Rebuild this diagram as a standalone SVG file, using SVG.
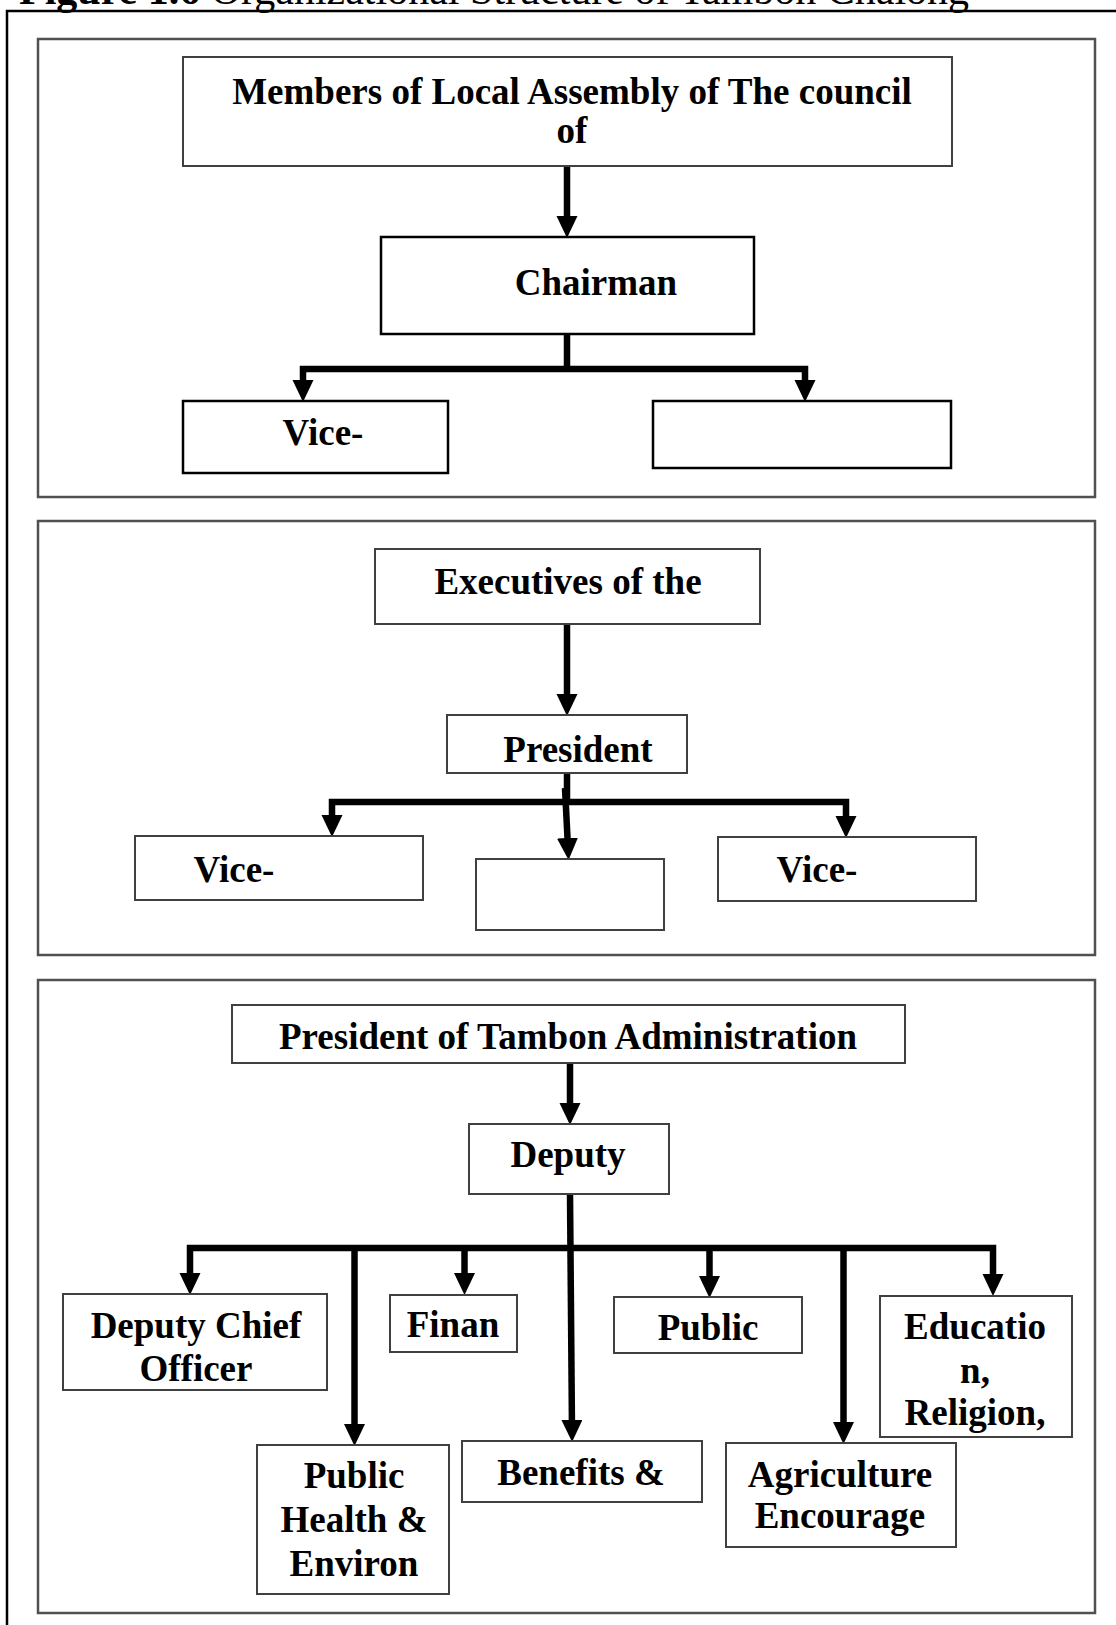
<svg xmlns="http://www.w3.org/2000/svg" width="1116" height="1625" viewBox="0 0 1116 1625">
<style>
.t{font-family:"Liberation Serif","Times New Roman",serif;font-weight:bold;font-size:37px;text-anchor:middle;fill:#000}
.panel{fill:none;stroke:#505050;stroke-width:2.5}
.box{fill:#fff;stroke:#404040;stroke-width:2}
.boxk{fill:#fff;stroke:#000;stroke-width:2.5}
.c{fill:none;stroke:#000;stroke-width:6.5;stroke-linejoin:miter}
.ca{fill:none;stroke:#000;stroke-width:6.5;stroke-linejoin:miter;marker-end:url(#ah)}
.cb{fill:none;stroke:#000;stroke-width:6.5;stroke-linejoin:miter;marker-start:url(#ah);marker-end:url(#ah)}
</style>
<defs>
<marker id="ah" markerUnits="userSpaceOnUse" markerWidth="22" markerHeight="22" viewBox="0 0 22 22" refX="10" refY="10.5" orient="auto-start-reverse">
<path d="M0,0 L22,10.5 L0,21 z" fill="#000"/>
</marker>
</defs>
<rect width="1116" height="1625" fill="#fff"/>
<text x="19" y="4" font-family="Liberation Serif,Times New Roman,serif" font-size="42" fill="#000"><tspan font-weight="bold">Figure 1.6</tspan> Organizational Structure of Tambon Chalong</text>
<path d="M7,1625 V11 H1116" fill="none" stroke="#000" stroke-width="2.5"/>
<g id="panels">
<rect class="panel" x="38" y="39" width="1057" height="458"/>
<rect class="panel" x="38" y="521" width="1057" height="434"/>
<rect class="panel" x="38" y="980" width="1057" height="633"/>
</g>
<g id="connectors">
<path class="ca" d="M567,166 V226"/>
<path class="c" d="M567,334 V369"/>
<path class="cb" d="M303,390 V369 H805 V390"/>
<path class="ca" d="M567,624 V704"/>
<path class="c" d="M567,773 V802"/>
<path class="cb" d="M332,825 V802 H846 V826"/>
<path class="ca" d="M565,788 L568,848"/>
<path class="ca" d="M570,1063 V1113"/>
<path class="ca" d="M570,1194 L572,1430"/>
<path class="cb" d="M190,1283 V1248 H993 V1284"/>
<path class="ca" d="M464.5,1248 V1283"/>
<path class="ca" d="M709.5,1248 V1286"/>
<path class="ca" d="M354.5,1248 V1434"/>
<path class="ca" d="M843.5,1248 V1432"/>
</g>
<g id="n-members">
<rect class="box" x="183" y="57" width="769" height="109"/>
<text class="t" x="572" y="104">Members of Local Assembly of The council</text>
<text class="t" x="572" y="143">of</text>
</g>
<g id="n-chairman">
<rect class="boxk" x="381" y="237" width="373" height="97"/>
<text class="t" x="596" y="295">Chairman</text>
</g>
<g id="n-vicechair">
<rect class="boxk" x="183" y="401" width="265" height="72"/>
<text class="t" x="323" y="445">Vice-</text>
</g>
<g id="n-chair-right">
<rect class="boxk" x="653" y="401" width="298" height="67"/>
</g>
<g id="n-executives">
<rect class="box" x="375" y="549" width="385" height="75"/>
<text class="t" x="568" y="594">Executives of the</text>
</g>
<g id="n-president">
<rect class="box" x="447" y="715" width="240" height="58"/>
<text class="t" x="578" y="762">President</text>
</g>
<g id="n-vice-left">
<rect class="box" x="135" y="836" width="288" height="64"/>
<text class="t" x="234" y="882">Vice-</text>
</g>
<g id="n-middle">
<rect class="box" x="476" y="859" width="188" height="71"/>
</g>
<g id="n-vice-right">
<rect class="box" x="718" y="837" width="258" height="64"/>
<text class="t" x="817" y="882">Vice-</text>
</g>
<g id="n-president-tambon">
<rect class="box" x="232" y="1005" width="673" height="58"/>
<text class="t" x="568" y="1049">President of Tambon Administration</text>
</g>
<g id="n-deputy">
<rect class="box" x="469" y="1124" width="200" height="70"/>
<text class="t" x="568" y="1167">Deputy</text>
</g>
<g id="n-deputy-chief">
<rect class="box" x="63" y="1294" width="264" height="96"/>
<text class="t" x="196" y="1338">Deputy Chief</text>
<text class="t" x="196" y="1381">Officer</text>
</g>
<g id="n-finan">
<rect class="box" x="390" y="1295" width="127" height="57"/>
<text class="t" x="453" y="1337">Finan</text>
</g>
<g id="n-public">
<rect class="box" x="614" y="1297" width="188" height="56"/>
<text class="t" x="708" y="1340">Public</text>
</g>
<g id="n-education">
<rect class="box" x="880" y="1296" width="192" height="141"/>
<text class="t" x="975" y="1339">Educatio</text>
<text class="t" x="975" y="1383">n,</text>
<text class="t" x="975" y="1425">Religion,</text>
</g>
<g id="n-public-health">
<rect class="box" x="257" y="1445" width="192" height="149"/>
<text class="t" x="354" y="1488">Public</text>
<text class="t" x="354" y="1532">Health &amp;</text>
<text class="t" x="354" y="1576">Environ</text>
</g>
<g id="n-benefits">
<rect class="box" x="462" y="1441" width="240" height="61"/>
<text class="t" x="581" y="1485">Benefits &amp;</text>
</g>
<g id="n-agriculture">
<rect class="box" x="726" y="1443" width="230" height="104"/>
<text class="t" x="840" y="1487">Agriculture</text>
<text class="t" x="840" y="1528">Encourage</text>
</g>
</svg>
